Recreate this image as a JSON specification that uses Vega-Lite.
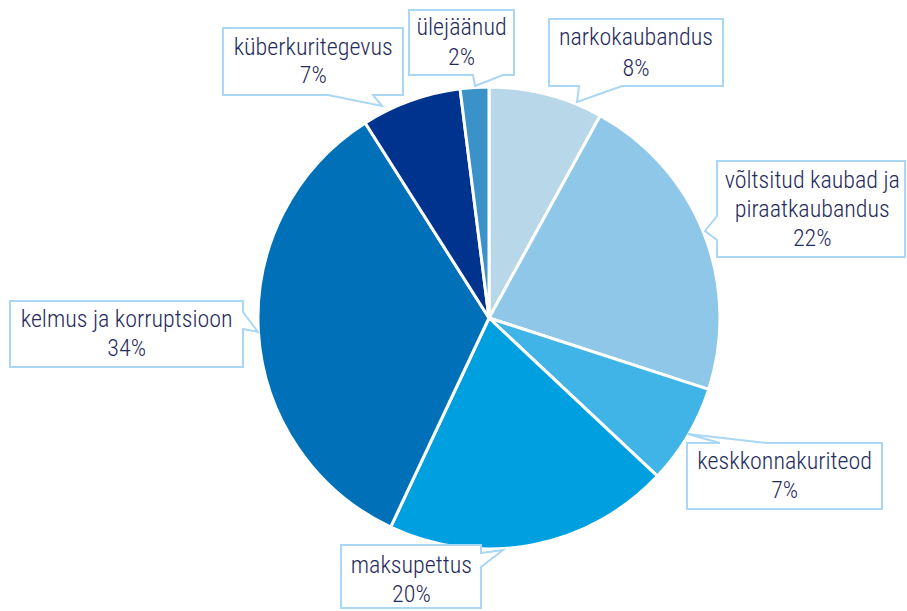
{
  "$schema": "https://vega.github.io/schema/vega-lite/v6.json",
  "width": 600,
  "height": 580,
  "autosize": {"type": "none"},
  "padding": {"left": 189, "top": 28, "right": 118, "bottom": 3},
  "background": "white",
  "config": {"view": {"stroke": null}, "text": {"font": "Roboto Condensed, Liberation Sans Narrow, Roboto", "fontSize": 24, "fontWeight": 300, "color": "#1f2c5c", "align": "center", "baseline": "alphabetic", "lineBreak": "\n"}},
  "data": {"values": [
    {"i": 1, "cat": "narkokaubandus", "value": 8, "label": "narkokaubandus\n8%"},
    {"i": 2, "cat": "võltsitud kaubad ja piraatkaubandus", "value": 22, "label": "võltsitud kaubad ja\npiraatkaubandus\n22%"},
    {"i": 3, "cat": "keskkonnakuriteod", "value": 7, "label": "keskkonnakuriteod\n7%"},
    {"i": 4, "cat": "maksupettus", "value": 20, "label": "maksupettus\n20%"},
    {"i": 5, "cat": "kelmus ja korruptsioon", "value": 34, "label": "kelmus ja korruptsioon\n34%"},
    {"i": 6, "cat": "küberkuritegevus", "value": 7, "label": "küberkuritegevus\n7%"},
    {"i": 7, "cat": "ülejäänud", "value": 2, "label": "ülejäänud\n2%"}
  ]},
  "transform": [
    {"stack": "value", "groupby": [], "sort": [{"field": "i", "order": "ascending"}], "as": ["v0", "v1"]}
  ],
  "layer": [
    {
      "mark": {"type": "arc", "outerRadius": 231, "stroke": "white", "strokeWidth": 3},
      "encoding": {
        "theta": {"field": "v0", "type": "quantitative", "scale": {"domain": [0, 100]}},
        "theta2": {"field": "v1"},
        "color": {"field": "cat", "type": "nominal", "legend": null,
          "scale": {
            "domain": ["narkokaubandus", "võltsitud kaubad ja piraatkaubandus", "keskkonnakuriteod", "maksupettus", "kelmus ja korruptsioon", "küberkuritegevus", "ülejäänud"],
            "range": ["#b8d8ea", "#8ec7e7", "#40b4e6", "#009fdf", "#0070b8", "#00338e", "#3a92c8"]
          }
        }
      }
    },
    {"transform": [{"filter": {"field": "i", "equal": 1}}],
     "mark": {"type": "point", "shape": "M60,-299H234V-232H133L88,-216L90,-232H60Z", "size": 4, "filled": true, "fill": "white", "stroke": "#a9d7f4", "strokeWidth": 2, "opacity": 1},
     "encoding": {}},
    {"transform": [{"filter": {"field": "i", "equal": 2}}],
     "mark": {"type": "point", "shape": "M228,-157H416V-61H228V-78L216,-87L228,-102Z", "size": 4, "filled": true, "fill": "white", "stroke": "#a9d7f4", "strokeWidth": 2, "opacity": 1},
     "encoding": {}},
    {"transform": [{"filter": {"field": "i", "equal": 3}}],
     "mark": {"type": "point", "shape": "M198,125H231L199,116L278,125H393V191H198Z", "size": 4, "filled": true, "fill": "white", "stroke": "#a9d7f4", "strokeWidth": 2, "opacity": 1},
     "encoding": {}},
    {"transform": [{"filter": {"field": "i", "equal": 4}}],
     "mark": {"type": "point", "shape": "M-148,227H-8V235L14,232L-8,249V290H-148Z", "size": 4, "filled": true, "fill": "white", "stroke": "#a9d7f4", "strokeWidth": 2, "opacity": 1},
     "encoding": {}},
    {"transform": [{"filter": {"field": "i", "equal": 5}}],
     "mark": {"type": "point", "shape": "M-479,-17H-246V-6L-231,14L-246,11V49H-479Z", "size": 4, "filled": true, "fill": "white", "stroke": "#a9d7f4", "strokeWidth": 2, "opacity": 1},
     "encoding": {}},
    {"transform": [{"filter": {"field": "i", "equal": 6}}],
     "mark": {"type": "point", "shape": "M-266,-290H-86V-223H-116L-107,-212L-161,-223H-266Z", "size": 4, "filled": true, "fill": "white", "stroke": "#a9d7f4", "strokeWidth": 2, "opacity": 1},
     "encoding": {}},
    {"transform": [{"filter": {"field": "i", "equal": 7}}],
     "mark": {"type": "point", "shape": "M-80,-308H25V-243H14L-14,-232L-16,-243H-80Z", "size": 4, "filled": true, "fill": "white", "stroke": "#a9d7f4", "strokeWidth": 2, "opacity": 1},
     "encoding": {}},
    {"transform": [{"filter": {"field": "i", "equal": 1}}],
     "mark": {"type": "text", "radius": 231, "dx": 147, "dy": -42, "lineHeight": 31},
     "encoding": {"theta": {"field": "v0", "type": "quantitative", "scale": {"domain": [0, 100]}}, "text": {"field": "label"}}},
    {"transform": [{"filter": {"field": "i", "equal": 2}}],
     "mark": {"type": "text", "radius": 231, "dx": 212, "dy": 72, "lineHeight": 29},
     "encoding": {"theta": {"field": "v0", "type": "quantitative", "scale": {"domain": [0, 100]}}, "text": {"field": "label"}}},
    {"transform": [{"filter": {"field": "i", "equal": 3}}],
     "mark": {"type": "text", "radius": 231, "dx": 76, "dy": 80, "lineHeight": 29},
     "encoding": {"theta": {"field": "v0", "type": "quantitative", "scale": {"domain": [0, 100]}}, "text": {"field": "label"}}},
    {"transform": [{"filter": {"field": "i", "equal": 4}}],
     "mark": {"type": "text", "radius": 231, "dx": -246, "dy": 97, "lineHeight": 29},
     "encoding": {"theta": {"field": "v0", "type": "quantitative", "scale": {"domain": [0, 100]}}, "text": {"field": "label"}}},
    {"transform": [{"filter": {"field": "i", "equal": 5}}],
     "mark": {"type": "text", "radius": 231, "dx": -264, "dy": -200, "lineHeight": 29},
     "encoding": {"theta": {"field": "v0", "type": "quantitative", "scale": {"domain": [0, 100]}}, "text": {"field": "label"}}},
    {"transform": [{"filter": {"field": "i", "equal": 6}}],
     "mark": {"type": "text", "radius": 231, "dx": -52, "dy": -68, "lineHeight": 28},
     "encoding": {"theta": {"field": "v0", "type": "quantitative", "scale": {"domain": [0, 100]}}, "text": {"field": "label"}}},
    {"transform": [{"filter": {"field": "i", "equal": 7}}],
     "mark": {"type": "text", "radius": 231, "dx": 1.5, "dy": -54, "lineHeight": 30},
     "encoding": {"theta": {"field": "v0", "type": "quantitative", "scale": {"domain": [0, 100]}}, "text": {"field": "label"}}}
  ]
}
